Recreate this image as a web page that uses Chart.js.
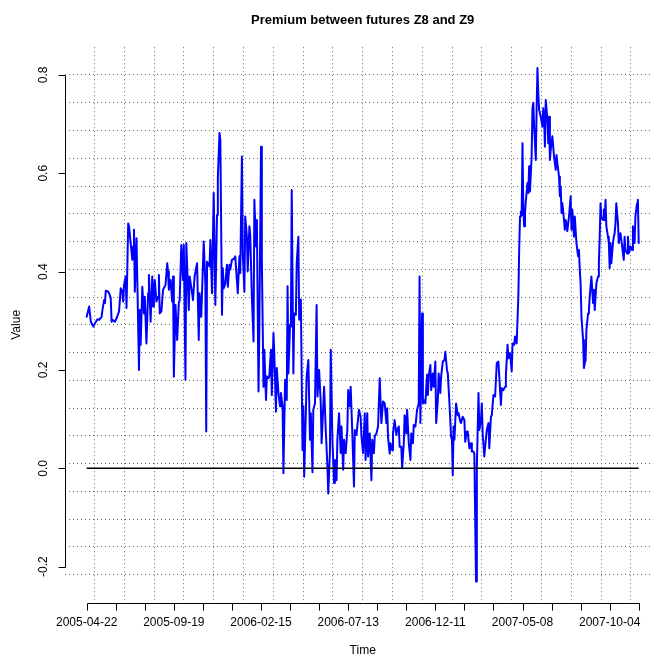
<!DOCTYPE html>
<html>
<head>
<meta charset="utf-8">
<script src="https://cdn.jsdelivr.net/npm/chart.js@4.4.0/dist/chart.umd.min.js"></script>
<style>
  html, body { margin: 0; padding: 0; overflow: hidden; background: #ffffff; }
  canvas { display: block; }
</style>
</head>
<body>
<canvas id="premiumChart" width="672" height="659"></canvas>
<script>
// Trading day index (1 = 2005-04-22) and premium Z8 - Z9
const days = [
  1, 4, 6, 9, 11, 14, 16, 19, 20, 22, 23, 24, 27, 28, 30, 31, 32, 35, 37, 40,
  42, 44, 45, 46, 48, 49, 51, 52, 54, 56, 57, 58, 59, 61, 62, 64, 65, 66, 68, 70,
  71, 73, 75, 76, 78, 80, 81, 82, 83, 85, 87, 88, 89, 91, 93, 96, 98, 99, 100, 102,
  104, 105, 106, 108, 110, 112, 113, 115, 117, 118, 120, 121, 124, 125, 128, 129, 131, 134, 136, 137,
  139, 142, 144, 145, 146, 149, 150, 152, 154, 156, 158, 159, 161, 162, 164, 165, 166, 168, 170, 171,
  173,
  174, 176, 179, 180, 183, 185, 186, 188, 189, 191, 192, 194, 195, 197, 198, 200, 202, 203, 205, 206,
  208, 209, 211, 212, 213, 214, 215, 217, 218, 220, 221, 223, 224, 226, 227, 229, 230, 232, 234, 235,
  237, 238, 240, 242, 243, 244, 246, 247, 248, 250, 251, 253, 254, 256, 257, 259, 261, 262, 263, 265,
  266, 268, 270, 271, 273, 274, 276, 278, 279, 281, 283, 284, 286, 287, 289, 291, 292, 294, 295, 297,
  299, 300, 302, 303, 305, 307, 308, 310, 311, 313, 315, 316, 318, 319, 321, 323, 324, 326, 327, 329,
  331, 332, 334, 336, 337, 339, 340, 342, 344, 345, 347, 348,
  350, 352, 354, 356, 358, 360, 362, 363, 364, 366, 367, 369, 370, 372, 374, 375, 377, 378, 380, 381,
  383, 384, 386, 387, 389, 391, 392, 394, 395, 397, 399, 401, 402, 403, 405, 406, 407, 409, 411, 412,
  413, 415, 416, 418, 419, 421, 422, 424, 425, 427, 428, 430, 432, 433, 435, 436, 438, 440, 441, 442,
  443, 444, 446, 448, 449, 451, 452, 454, 456, 457, 459, 460, 462, 464, 465, 467, 468, 470, 471, 472,
  473, 474, 476, 477, 478, 480, 481, 483, 485, 486, 488, 489, 491, 493, 495, 497, 498, 500, 501, 503,
  505, 506, 508, 509, 511, 513, 514, 516, 517, 519, 521,
  522, 523, 524, 525, 526, 527, 528, 529, 530, 532, 533, 534, 535, 537, 538, 539, 540, 542, 543, 544,
  545, 546, 548, 550, 551, 552, 553, 554, 556, 557, 558, 559, 560, 562, 563, 564, 566, 567, 568, 570,
  571, 572, 573, 574, 576, 577, 578, 579, 580, 582, 583, 584, 585, 586, 588, 589, 590, 591, 593, 594,
  595, 596, 597, 599, 600, 601, 602, 603, 605, 606, 607, 608, 609, 611, 612, 613, 614, 615, 617, 618,
  619, 620, 621, 623, 624, 625, 626, 627, 629, 630, 631, 632, 633, 635, 636, 637, 638, 639, 641, 642,
  643, 644, 646, 647, 648, 649, 650, 652, 653, 654, 655, 656, 658, 659, 660, 661, 662, 664, 665, 666
];

const premium = [
  0.308, 0.329, 0.298, 0.288, 0.295, 0.303, 0.302, 0.308, 0.322, 0.342, 0.336, 0.361, 0.359, 0.356, 0.346, 0.298, 0.302, 0.298, 0.305, 0.319,
  0.366, 0.359, 0.339, 0.373, 0.390, 0.326, 0.498, 0.492, 0.458, 0.424, 0.451, 0.485, 0.359, 0.468, 0.383, 0.200, 0.322, 0.251, 0.369, 0.315,
  0.349, 0.254, 0.356, 0.393, 0.298, 0.390, 0.329, 0.359, 0.383, 0.339, 0.349, 0.393, 0.315, 0.319, 0.363, 0.373, 0.417, 0.400, 0.363, 0.383,
  0.339, 0.390, 0.186, 0.332, 0.261, 0.336, 0.342, 0.454, 0.383, 0.454, 0.180, 0.458, 0.322, 0.390, 0.356, 0.342, 0.390, 0.417, 0.261, 0.356,
  0.308, 0.461, 0.373, 0.075, 0.420, 0.410, 0.464, 0.356, 0.560, 0.332, 0.515, 0.590, 0.682, 0.668, 0.312, 0.407, 0.366, 0.376, 0.414, 0.369,
  0.414,
  0.404, 0.424, 0.427, 0.431, 0.356, 0.431, 0.397, 0.634, 0.437, 0.359, 0.512, 0.471, 0.400, 0.492, 0.475, 0.349, 0.258, 0.546, 0.451, 0.505,
  0.156, 0.285, 0.654, 0.424, 0.295, 0.166, 0.241, 0.139, 0.187, 0.183, 0.187, 0.241, 0.149, 0.275, 0.234, 0.115, 0.204, 0.153, 0.126, 0.153,
  0.126, -0.010, 0.180, 0.139, 0.370, 0.193, 0.292, 0.288, 0.566, 0.193, 0.315, 0.312, 0.417, 0.471, 0.302, 0.343, 0.037, 0.126, -0.017, 0.112,
  0.187, 0.220, 0.058, 0.112, -0.008, 0.119, 0.132, 0.332, 0.146, 0.200, 0.132, 0.051, 0.126, 0.166, 0.078, 0.004, -0.051, 0.031, 0.241, 0.058,
  -0.030, 0.017, -0.024, 0.058, 0.112, 0.031, 0.085, -0.003, 0.058, 0.031, 0.078, 0.159, 0.126, 0.166, 0.071, -0.037, 0.078, 0.068, 0.085, 0.119,
  0.105, 0.065, 0.031, 0.112, 0.017, 0.112, 0.024, 0.071, -0.024, 0.058, 0.031, 0.065,
  0.071, 0.085, 0.183, 0.092, 0.136, 0.132, 0.092, 0.122, 0.064, 0.030, 0.051, 0.037, 0.071, 0.098, 0.068, 0.078, 0.085, 0.044, 0.044, 0.000,
  0.051, 0.108, 0.071, 0.119, 0.051, 0.017, 0.071, 0.051, 0.088, 0.085, 0.119, 0.132, 0.390, 0.092, 0.315, 0.132, 0.139, 0.132, 0.190, 0.149,
  0.187, 0.210, 0.159, 0.193, 0.166, 0.217, 0.092, 0.139, 0.193, 0.153, 0.187, 0.217, 0.220, 0.237, 0.200, 0.193, 0.132, 0.064, 0.058, -0.014,
  0.085, 0.058, 0.132, 0.108, 0.112, 0.095, 0.092, 0.105, 0.098, 0.054, 0.075, 0.075, 0.041, 0.051, 0.034, 0.034, 0.030, -0.230, 0.003, 0.078,
  0.153, 0.078, 0.098, 0.132, 0.071, 0.024, 0.044, 0.078, 0.092, 0.041, 0.105, 0.108, 0.149, 0.146, 0.214, 0.217, 0.187, 0.129, 0.163, 0.159,
  0.166, 0.190, 0.251, 0.224, 0.234, 0.197, 0.254, 0.251, 0.268, 0.254, 0.349,
  0.444, 0.512, 0.522, 0.515, 0.661, 0.526, 0.492, 0.519, 0.543, 0.580, 0.560, 0.614, 0.563, 0.634, 0.732, 0.743, 0.695, 0.627, 0.729, 0.814,
  0.763, 0.729, 0.715, 0.695, 0.732, 0.715, 0.654, 0.749, 0.709, 0.661, 0.715, 0.627, 0.648, 0.675, 0.654, 0.634, 0.607, 0.637, 0.620, 0.593,
  0.553, 0.573, 0.519, 0.539, 0.505, 0.485, 0.505, 0.498, 0.482, 0.512, 0.532, 0.553, 0.485, 0.526, 0.471, 0.512, 0.485, 0.458, 0.431, 0.444,
  0.404, 0.376, 0.309, 0.261, 0.204, 0.214, 0.220, 0.281, 0.315, 0.322, 0.349, 0.370, 0.390, 0.336, 0.363, 0.322, 0.349, 0.376, 0.390, 0.417,
  0.471, 0.539, 0.512, 0.505, 0.526, 0.505, 0.546, 0.492, 0.471, 0.458, 0.407, 0.458, 0.417, 0.458, 0.471, 0.478, 0.498, 0.539, 0.498, 0.458,
  0.471, 0.478, 0.451, 0.437, 0.424, 0.471, 0.444, 0.437, 0.471, 0.437, 0.444, 0.451, 0.444, 0.492, 0.471, 0.458, 0.512, 0.539, 0.546, 0.458
];

// Horizontal reference line at zero
const zeroDays = [1, 666];
const zeroValues = [0, 0];

// Axis ticks
const tickDays = [1, 36, 71, 106, 141, 176, 211, 246, 281, 316, 351, 386, 421, 456, 491, 526, 561, 596, 631, 666];
const tickLabels = ['2005-04-22', '', '', '2005-09-19', '', '', '2006-02-15', '', '', '2006-07-13', '', '',
                    '2006-12-11', '', '', '2007-05-08', '', '', '2007-10-04', ''];
const valueTicks = [-0.2, 0.0, 0.2, 0.4, 0.6, 0.8];
const valueTickLabels = ['-0.2', '0.0', '0.2', '0.4', '0.6', '0.8'];

const FONT = '"Liberation Sans", Arial, Helvetica, sans-serif';
const X_MIN = -25.6, X_MAX = 692.6;
const Y_MIN = -0.2728, Y_MAX = 0.8562;

function toPoints(xs, ys) {
    return xs.map((d, i) => ({ x: d, y: ys[i] }));
}

// grid(20, 20) : dotted lines splitting the plot region in equal cells
function gridTicks(min, max, n) {
    const out = [];
    for (let k = 1; k < n; k++) out.push({ value: min + k * (max - min) / n });
    return out;
}

// R style axes, drawn with the chart's own scales
const rAxes = {
    id: 'rAxes',
    afterDraw(chart) {
        const { ctx, chartArea, scales } = chart;
        const xs = scales.x, ys = scales.y;
        ctx.save();
        ctx.strokeStyle = '#000';
        ctx.fillStyle = '#000';
        ctx.lineWidth = 1;

        // x axis
        const yb = Math.round(chartArea.bottom) + 0.5;
        ctx.beginPath();
        ctx.moveTo(Math.round(xs.getPixelForValue(tickDays[0])) + 0.5, yb);
        ctx.lineTo(Math.round(xs.getPixelForValue(tickDays[tickDays.length - 1])) + 0.5, yb);
        tickDays.forEach(d => {
            const px = Math.round(xs.getPixelForValue(d)) + 0.5;
            ctx.moveTo(px, yb);
            ctx.lineTo(px, yb + 7);
        });
        ctx.stroke();
        ctx.font = '12px ' + FONT;
        ctx.textAlign = 'center';
        ctx.textBaseline = 'middle';
        tickDays.forEach((d, i) => {
            if (tickLabels[i]) ctx.fillText(tickLabels[i], xs.getPixelForValue(d), chartArea.bottom + 20.5);
        });

        // y axis
        const xl = Math.round(chartArea.left) + 0.5;
        ctx.beginPath();
        ctx.moveTo(xl, Math.round(ys.getPixelForValue(valueTicks[0])) + 0.5);
        ctx.lineTo(xl, Math.round(ys.getPixelForValue(valueTicks[valueTicks.length - 1])) + 0.5);
        valueTicks.forEach(v => {
            const py = Math.round(ys.getPixelForValue(v)) + 0.5;
            ctx.moveTo(xl, py);
            ctx.lineTo(xl - 7, py);
        });
        ctx.stroke();
        valueTicks.forEach((v, i) => {
            ctx.save();
            ctx.translate(chartArea.left - 21, ys.getPixelForValue(v));
            ctx.rotate(-Math.PI / 2);
            ctx.fillText(valueTickLabels[i], 0, 0);
            ctx.restore();
        });

        // titles
        const cx = (chartArea.left + chartArea.right) / 2;
        const cy = (chartArea.top + chartArea.bottom) / 2;
        ctx.fillText('Time', cx, chartArea.bottom + 48);
        ctx.save();
        ctx.translate(chartArea.left - 48, cy);
        ctx.rotate(-Math.PI / 2);
        ctx.fillText('Value', 0, 0);
        ctx.restore();
        ctx.font = 'bold 13px ' + FONT;
        ctx.fillText('Premium between futures Z8 and Z9', cx, 20);
        ctx.restore();
    }
};

function createChart(chartId) {
    const ctx = document.getElementById(chartId).getContext('2d');
    return new Chart(ctx, {
        type: 'line',
        data: {
            datasets: [
                {
                    label: 'zero',
                    data: toPoints(zeroDays, zeroValues),
                    borderColor: '#000000',
                    borderWidth: 1.5,
                    pointRadius: 0,
                    order: 0
                },
                {
                    label: 'Premium Z8-Z9',
                    data: toPoints(days, premium),
                    borderColor: '#0000ff',
                    borderWidth: 2,
                    borderJoinStyle: 'round',
                    borderCapStyle: 'round',
                    pointRadius: 0,
                    tension: 0,
                    order: 1
                }
            ]
        },
        options: {
            responsive: false,
            animation: false,
            devicePixelRatio: 1,
            layout: { padding: { left: 64.6, top: 47.2, right: 11.2, bottom: 56.5 } },
            plugins: {
                legend: { display: false },
                tooltip: { enabled: false },
                title: { display: false }
            },
            scales: {
                x: {
                    type: 'linear',
                    min: X_MIN,
                    max: X_MAX,
                    afterBuildTicks: s => { s.ticks = gridTicks(X_MIN, X_MAX, 20); },
                    ticks: { display: false },
                    grid: { color: '#666666', lineWidth: 1, drawTicks: false },
                    border: { display: false, dash: [1, 3] }
                },
                y: {
                    type: 'linear',
                    min: Y_MIN,
                    max: Y_MAX,
                    afterBuildTicks: s => { s.ticks = gridTicks(Y_MIN, Y_MAX, 20); },
                    ticks: { display: false },
                    grid: { color: '#666666', lineWidth: 1, drawTicks: false },
                    border: { display: false, dash: [1, 3] }
                }
            }
        },
        plugins: [rAxes]
    });
}

createChart('premiumChart');
</script>
</body>
</html>
